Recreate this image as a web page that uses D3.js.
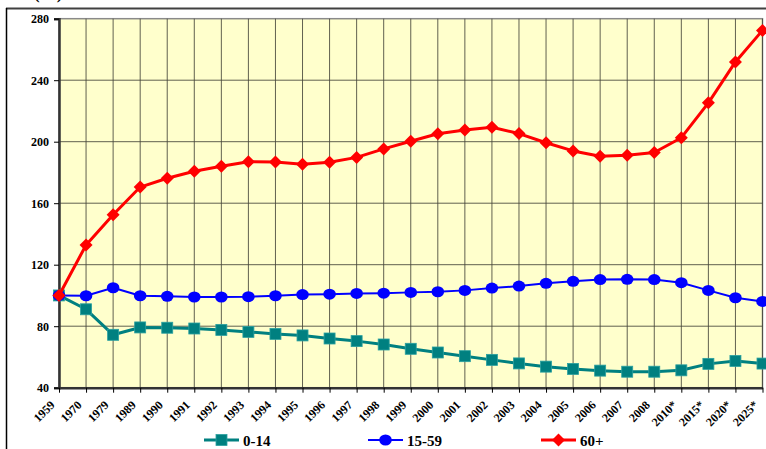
<html>
<head>
    <meta charset="utf-8"/>
    <script src="https://d3js.org/d3.v7.min.js"></script>
</head>
<style>
    body { margin: 0; background: #fff; }
    svg { display: block; font-family: "Liberation Serif", "Times New Roman", serif; }
</style>
<body>
<svg class="main" width="766" height="449"></svg>
</body>
<script>
    var years = ["1959", "1970", "1979", "1989", "1990", "1991", "1992", "1993", "1994", "1995", "1996",
        "1997", "1998", "1999", "2000", "2001", "2002", "2003", "2004", "2005", "2006", "2007", "2008",
        "2010*", "2015*", "2020*", "2025*"]
    var age0_14 = [100, 91, 74.4, 79.2, 79, 78.5, 77.6, 76.3, 75, 74, 72, 70.3, 68.1, 65.3, 62.9, 60.5,
        58.1, 55.8, 53.7, 52.2, 51.1, 50.4, 50.4, 51.3, 55.5, 57.4, 55.7]
    var age15_59 = [100, 99.8, 105, 99.8, 99.4, 99, 99, 99.2, 99.8, 100.6, 100.8, 101.3, 101.5, 102,
        102.4, 103.3, 104.8, 106.1, 107.9, 109.2, 110.3, 110.5, 110.3, 108.3, 103.3, 98.5, 96.1]
    var age60 = [100, 132.8, 152.5, 170.5, 176.2, 180.8, 184, 187, 186.8, 185.3, 186.6, 189.8, 195.3,
        200.3, 205.2, 207.6, 209.4, 205.3, 199.3, 194, 190.6, 191.2, 193, 202.6, 225.3, 251.9, 272.4]
    var yTicks = [40, 80, 120, 160, 200, 240, 280]

    var series = [
        {name: "0-14", values: age0_14, color: "#008080", width: 3, shape: "square", lx: 204},
        {name: "15-59", values: age15_59, color: "#0000ff", width: 2, shape: "circle", lx: 368},
        {name: "60+", values: age60, color: "#ff0000", width: 3, shape: "diamond", lx: 541}
    ]

    var svg = d3.select("svg.main")
    var plotLeft = 59, plotRight = 762.5, plotTop = 18.7, plotBottom = 387.7

    var x = d3.scalePoint().domain(years).range([plotLeft, plotRight])
    var y = d3.scaleLinear().domain([40, 280]).range([plotBottom, plotTop])

    // outer frame
    svg.append("line").attr("x1", 6).attr("x2", 766).attr("y1", 8.5).attr("y2", 8.5)
        .attr("stroke", "#404040").attr("stroke-width", 2)
    svg.append("line").attr("x1", 6.5).attr("x2", 6.5).attr("y1", 8).attr("y2", 449)
        .attr("stroke", "#000").attr("stroke-width", 1.5)
    svg.append("text").attr("x", 34).attr("y", -1).attr("font-size", 17).attr("font-weight", "bold")
        .text("(%)")

    // plot area
    svg.append("rect").attr("x", plotLeft).attr("y", plotTop)
        .attr("width", plotRight - plotLeft).attr("height", plotBottom - plotTop)
        .attr("fill", "#ffffcc").attr("stroke", "#8a8a8a").attr("stroke-width", 1.5)

    svg.append("g").selectAll("line").data(years.slice(1)).enter().append("line")
        .attr("x1", function (d) { return x(d) }).attr("x2", function (d) { return x(d) })
        .attr("y1", plotTop).attr("y2", plotBottom)
        .attr("stroke", "#45453a").attr("stroke-width", 1).attr("stroke-opacity", 0.85)
    svg.append("g").selectAll("line").data(yTicks.slice(1, -1)).enter().append("line")
        .attr("x1", plotLeft).attr("x2", plotRight)
        .attr("y1", function (d) { return y(d) }).attr("y2", function (d) { return y(d) })
        .attr("stroke", "#45453a").attr("stroke-width", 1).attr("stroke-opacity", 0.85)

    // axes
    var yAxis = svg.append("g").attr("transform", "translate(" + plotLeft + ",0)")
        .call(d3.axisLeft(y).tickValues(yTicks).tickSize(5).tickPadding(5))
    yAxis.select(".domain").attr("stroke", "#333").attr("stroke-width", 2.5)
    yAxis.selectAll("text").attr("font-size", 12).attr("font-weight", "bold")
        .attr("font-family", "Liberation Serif").attr("fill", "#000")

    var xAxis = svg.append("g").attr("transform", "translate(0," + plotBottom + ")")
        .call(d3.axisBottom(x).tickSize(5).tickSizeOuter(0))
    xAxis.select(".domain").attr("stroke", "#333").attr("stroke-width", 2.5)
    xAxis.selectAll("text").attr("font-size", 12).attr("font-weight", "bold")
        .attr("font-family", "Liberation Serif").attr("fill", "#000")
        .attr("text-anchor", "end").attr("dy", 0).attr("y", 0)
        .attr("transform", "translate(-4,18) rotate(-45)")

    function marker(g, s, cx, cy) {
        if (s.shape === "square") {
            g.append("rect").attr("x", cx - 5.5).attr("y", cy - 5.5).attr("width", 11).attr("height", 11)
                .attr("fill", s.color).attr("stroke", "#2aa0a0").attr("stroke-width", 0.8)
        } else if (s.shape === "circle") {
            g.append("ellipse").attr("cx", cx).attr("cy", cy).attr("rx", 6.3).attr("ry", 5.5).attr("fill", s.color)
        } else {
            g.append("path").attr("d", "M" + cx + "," + (cy - 6.5) + "L" + (cx + 6.5) + "," + cy + "L" + cx + "," +
                (cy + 6.5) + "L" + (cx - 6.5) + "," + cy + "Z").attr("fill", s.color)
        }
    }

    var line = d3.line().x(function (d, i) { return x(years[i]) }).y(function (d) { return y(d) })

    series.forEach(function (s) {
        var g = svg.append("g")
        g.append("path").datum(s.values).attr("d", line).attr("fill", "none")
            .attr("stroke", s.color).attr("stroke-width", s.width).attr("stroke-linejoin", "round")
        s.values.forEach(function (v, i) { marker(g, s, x(years[i]), y(v)) })

        // legend
        var lg = svg.append("g")
        lg.append("line").attr("x1", s.lx).attr("x2", s.lx + 35).attr("y1", 440).attr("y2", 440)
            .attr("stroke", s.color).attr("stroke-width", s.width)
        marker(lg, s, s.lx + 17.5, 440)
        lg.append("text").attr("x", s.lx + 39).attr("y", 446).attr("font-size", 15).attr("font-weight", "bold")
            .text(s.name)
    })
</script>
</html>
